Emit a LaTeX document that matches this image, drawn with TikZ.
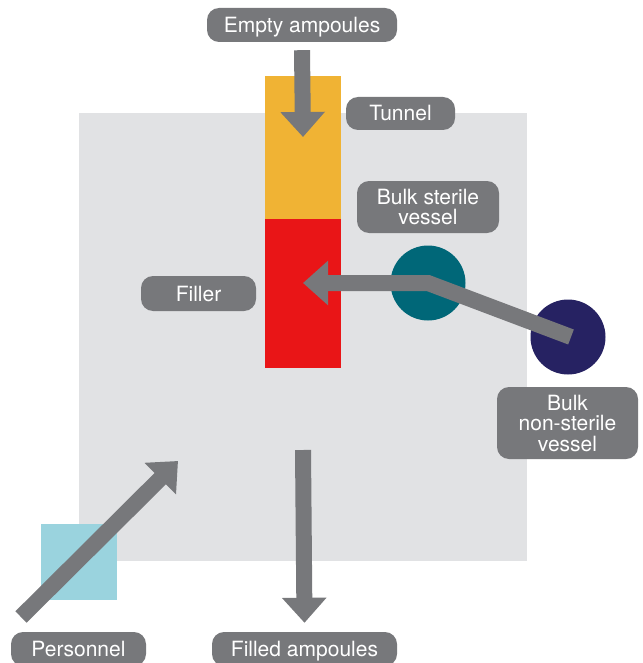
\documentclass[tikz,border=0pt]{standalone}
\usepackage{fontspec}
\setmainfont{TeX Gyre Heros}
\usepackage{tikz}
\usetikzlibrary{arrows.meta,positioning}
\usepackage{xcolor}
\definecolor{roomgrey}{HTML}{E1E2E4}
\definecolor{tagrey}{HTML}{77787B}
\definecolor{tunnelorange}{HTML}{F0B334}
\definecolor{fillerred}{HTML}{E91517}
\definecolor{sterileteal}{HTML}{006778}
\definecolor{bulknavy}{HTML}{262262}
\definecolor{airlockcyan}{HTML}{9AD3DE}

\begin{document}
\begin{tikzpicture}[x=1pt, y=-1pt,
    tag/.style={fill=tagrey, text=white, rounded corners=12pt, align=center, inner sep=0pt,
        font=\fontsize{21}{20.5}\selectfont},
    onetag/.style={tag, text height=15pt, text depth=0pt},
    block/.style={inner sep=0pt, minimum width=76pt},
    vessel/.style={circle, inner sep=0pt, minimum size=75pt},
    flow/.style={draw=tagrey, line width=16pt, line join=miter, -{Triangle[width=43pt,length=25pt]}}
]
\useasboundingbox (0,0) rectangle (642,663);

% CLEAN ROOM
\node[fill=roomgrey, inner sep=0pt, minimum size=448pt] (room) at (303,337) {};
\node[block, fill=tunnelorange, minimum height=143pt] (tunnel) at (303,147.5) {};
\node[block, fill=fillerred, minimum height=149pt] (filler) at (303,293.5) {};
\node[block, fill=airlockcyan, minimum height=76pt] (airlock) at (79,562) {};

% VESSELS
\node[vessel, fill=sterileteal] (sterilevessel) at (428,283) {};
\node[vessel, fill=bulknavy] (bulkvessel) at (568,337) {};

% Free ends of the flows
\coordinate (tunnelin) at (303,137);
\coordinate (fillerin) at (303,283);
\coordinate (fillerout) at (303,450);
\coordinate (staffout) at (21,617);
\coordinate (staffin) at (178,461);

% LABELS
\node[onetag, minimum width=190pt, minimum height=34pt] (emptytag) at (302,25) {Empty ampoules};
\node[onetag, minimum width=109pt, minimum height=33pt] (tunneltag) at (400.5,113.5) {Tunnel};
\node[tag, minimum width=142pt, minimum height=52pt] (steriletag) at (428,207) {Bulk sterile\\vessel};
\node[onetag, minimum width=115pt, minimum height=35pt] (fillertag) at (198.5,293.5) {Filler};
\node[tag, minimum width=141pt, minimum height=72pt] (bulktag) at (567.5,423) {Bulk\\non-sterile\\vessel};
\node[onetag, minimum width=135pt, minimum height=34pt] (stafftag) at (78.5,649) {Personnel};
\node[onetag, minimum width=185pt, minimum height=34pt] (filledtag) at (304.5,649) {Filled ampoules};

% FLOWS
\draw[flow] ([yshift=-8pt]emptytag.south) -- (tunnelin);
\draw[flow] ([xshift=3pt]bulkvessel.center) -- (sterilevessel.center) -- (fillerin);
\draw[flow] (fillerout) -- ([yshift=9pt]filledtag.north);
\draw[flow] (staffout) -- (staffin);

\end{tikzpicture}
\end{document}
